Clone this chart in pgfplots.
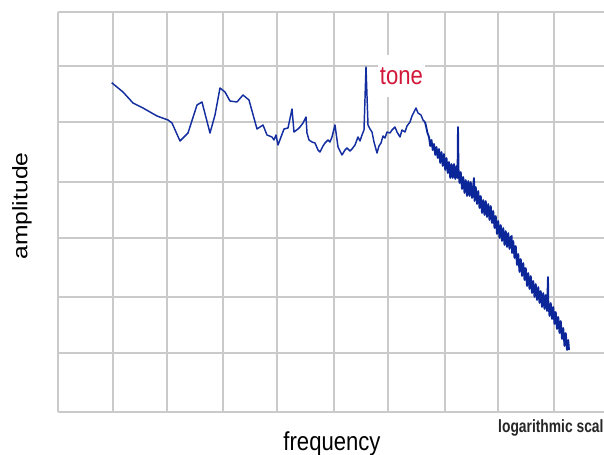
\documentclass[border=0pt]{standalone}
\usepackage{pgfplots}
\pgfplotsset{compat=1.18}
\usepackage{fontspec}
\setmainfont{Liberation Sans}

\definecolor{gridgray}{RGB}{202,202,202}
\definecolor{spectrum}{RGB}{20,46,160}
\definecolor{spectrumdark}{RGB}{10,38,152}
\definecolor{tonered}{RGB}{210,24,58}

\begin{document}
\begin{tikzpicture}
\begin{axis}[
  x=0.75bp, y=0.75bp,
  xmin=0, xmax=546, ymin=0, ymax=400,
  axis line style={draw=none},
  xtick={0,55,109,165,219,276,330,387,440,496},
  ytick={0,59,115,174,230,290,346,400},
  xticklabels={}, yticklabels={},
  major tick length=0pt,
  grid=major,
  grid style={gridgray, line width=1.5bp},
  clip=false,
]
% spectrum of a noisy signal with a pure tone, log-frequency axis
% low and middle frequencies
\addplot[spectrum, line width=1.1bp, line join=round] coordinates {
(53.7,329.3) (65,320) (75,309) (85,304) (99,296) (110,292) (114,289)
(122,271) (130,279) (139,307) (144,310) (152,279) (157,297) (162,324)
(167,320) (172,311) (179,310) (185,317) (191,312) (199,283) (205,287)
(209,277) (214,275) (216,272) (218,277) (220,267) (226,283) (230,284)
(234,303) (236,280) (240,283) (242,285) (245,289) (248,295) (249,279)
(251,272) (254,270) (257,269) (260,262) (262,260) (265,266) (267,269)
(270,272) (272,270) (274,275) (277,287) (280,265) (282,261) (284,257)
(287,262) (289,264) (292,261) (294,263) (297,267) (300,275) (302,271)
(304,277) (306,282) (308,345) (310,287) (312,283) (314,280) (316,270)
(319,259) (321,266) (323,269) (325,276) (327,274) (329,280) (332,279)
(334,282) (337,285) (339,280) (342,275) (344,282) (347,280) (349,286)
(352,290) (354,296) (356,300) (358,304) (360,299) (363,297) (365,292)
(367,290)
};
% high frequencies: dense noisy roll-off
\addplot[spectrumdark, line width=1.4bp, line join=round] coordinates {
(367,290) (368,286) (369.5,279) (371,275) (372.25,266) (373.5,272)
(374.75,262) (376,268) (377.25,257) (378.5,265) (379.75,254) (381,263)
(382.25,249) (383.5,260) (384.75,246) (386,258) (387.25,242) (388.5,254)
(389.75,239) (391,250) (392.25,234) (393.5,248) (394.75,234) (396,248)
(397.25,233) (398.5,246) (399.5,234) (400,285) (400.5,243) (401.5,229)
(402.75,240) (404,223) (405.25,235) (406.5,219) (407.75,232) (409,216)
(410.25,231) (411.5,216) (412.75,230) (414,214) (415.25,227) (416,234)
(416.5,211) (417.75,225) (419,208) (420.25,221) (421.5,204) (422.75,216)
(424,199) (425.25,212) (426.5,197) (427.75,211) (429,195) (430.25,208)
(431.5,192) (432.75,206) (434,189) (435.25,201) (436.5,184) (437.75,196)
(439,178) (440.25,191) (441.5,174) (442.75,187) (444,171) (445.25,184)
(446.5,167) (447.75,181) (449,165) (450.25,179) (451.5,163) (452.75,175)
(453.75,176) (454,159) (455.25,171) (456.5,154) (457.75,166) (459,147)
(460.25,158) (461.5,140) (462.75,153) (464,136) (465.25,149) (466.5,132)
(467.75,144) (469,126) (470.25,139) (471.5,123) (472.75,136) (474,119)
(475.25,131) (476.5,115) (477.75,128) (479,112) (480.25,125) (481.5,109)
(482.75,121) (484,105) (485.25,119) (486.5,103) (487.75,117) (489,101)
(490,135) (490.25,112) (491.5,96) (492.75,109) (494,93) (495.25,105)
(496.5,88) (497.75,100) (499,83) (500.25,95) (501.5,79) (502.75,91)
(504,73) (505.25,84) (506.5,66) (507.75,79) (509,62) (510.25,72) (511,62)
};
\node[fill=white, minimum width=41.25bp, minimum height=31.5bp, inner sep=0pt,
      text=tonered, font=\fontsize{19.5bp}{22bp}\selectfont, xscale=0.85]
  at (axis cs:343.5,336) {tone};
\node[xscale=0.85, rotate=90, anchor=center, font=\fontsize{18.5bp}{22bp}\selectfont]
  at (axis cs:-36,206) {amplitude};
\node[anchor=base, xscale=0.85, font=\fontsize{19.5bp}{22bp}\selectfont]
  at (axis cs:274,-38) {frequency};
\node[anchor=base west, inner sep=0pt, xscale=0.78, text=black!85,
      font=\bfseries\fontsize{13.3bp}{15bp}\selectfont]
  at (axis cs:440,-20) {logarithmic scale};
\coordinate (bl) at (axis cs:-58,-43);
\coordinate (tr) at (axis cs:546,412);
\end{axis}
\pgfresetboundingbox
\path[use as bounding box] (bl) rectangle (tr);
\end{tikzpicture}
\end{document}
